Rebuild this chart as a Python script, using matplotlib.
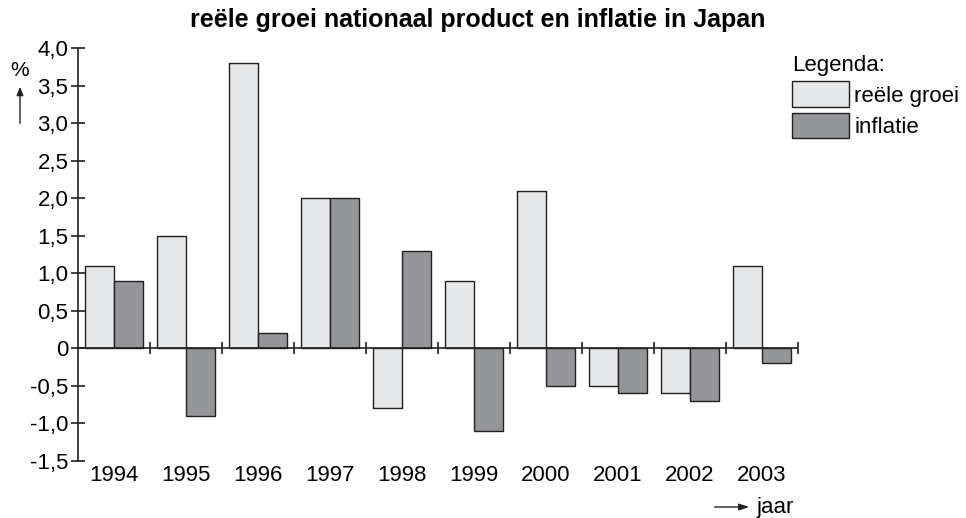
import numpy as np
import matplotlib
matplotlib.use("Agg")
import matplotlib.pyplot as plt

plt.rcParams['font.family'] = ['Liberation Sans', 'DejaVu Sans']

# data
years = ["1994", "1995", "1996", "1997", "1998", "1999", "2000", "2001", "2002", "2003"]
groei = [1.1, 1.5, 3.8, 2.0, -0.8, 0.9, 2.1, -0.5, -0.6, 1.1]
inflatie = [0.9, -0.9, 0.2, 2.0, 1.3, -1.1, -0.5, -0.6, -0.7, -0.2]
y_ticks = [-1.5, -1.0, -0.5, 0, 0.5, 1.0, 1.5, 2.0, 2.5, 3.0, 3.5, 4.0]
y_labels = ["-1,5", "-1,0", "-0,5", "0", "0,5", "1,0", "1,5", "2,0", "2,5", "3,0", "3,5", "4,0"]

light = "#e6e7e8"
dark = "#939598"
edge = "#231f20"

fig = plt.figure(figsize=(9.66, 5.18), dpi=100)
ax = fig.add_axes([78 / 966, 1 - 460.5 / 518, 720 / 966, 412.5 / 518])

x = np.arange(len(years))
w = 0.4
b1 = ax.bar(x + 0.1, groei, w, align="edge", color=light, edgecolor=edge, linewidth=1, label="reële groei")
b2 = ax.bar(x + 0.5, inflatie, w, align="edge", color=dark, edgecolor=edge, linewidth=1, label="inflatie")

ax.set_xlim(0, len(years))
ax.set_ylim(-1.5, 4.0)

# zero line with group separators
ax.axhline(0, color=edge, lw=1.2, zorder=3)
ax.plot(np.arange(1, len(years) + 1), np.zeros(len(years)), "|", ms=9, mew=1.2, color=edge, zorder=3)

for s in ["top", "right", "bottom"]:
    ax.spines[s].set_visible(False)
ax.spines["left"].set_linewidth(1.2)
ax.spines["left"].set_color(edge)

ax.set_yticks(y_ticks)
ax.set_yticklabels(y_labels)
ax.tick_params(axis="y", direction="inout", length=10, width=1.2, color=edge, labelsize=16, pad=2)
ax.set_xticks(x + 0.5)
ax.set_xticklabels(years)
ax.tick_params(axis="x", length=0, labelsize=16, pad=3)

fig.text(0.495, 1 - 20 / 518, "reële groei nationaal product en inflatie in Japan",
         ha="center", va="center", fontsize=18, fontweight="bold")

# axis labels with arrows
fig.text(20 / 966, 1 - 70 / 518, "%", ha="center", va="center", fontsize=15)
fig.add_artist(matplotlib.patches.FancyArrowPatch(
    (20 / 966, 1 - 126 / 518), (20 / 966, 1 - 84 / 518), transform=fig.transFigure,
    arrowstyle="-|>,head_length=5,head_width=2", color=edge, lw=1))
fig.text(756 / 966, 1 - 507 / 518, "jaar", ha="left", va="center", fontsize=16)
fig.add_artist(matplotlib.patches.FancyArrowPatch(
    (712 / 966, 1 - 507 / 518), (752 / 966, 1 - 507 / 518), transform=fig.transFigure,
    arrowstyle="-|>,head_length=6,head_width=2", color=edge, lw=1))

leg = fig.legend(handles=[b1, b2], title="Legenda:", loc="upper left",
                 bbox_to_anchor=(783 / 966, 1 - 46 / 518), frameon=False, fontsize=16,
                 title_fontsize=16, alignment="left", handlelength=2.55, handleheight=1.4,
                 handletextpad=0.25, labelspacing=0.25, borderaxespad=0)

fig.savefig("out.png", dpi=100)
